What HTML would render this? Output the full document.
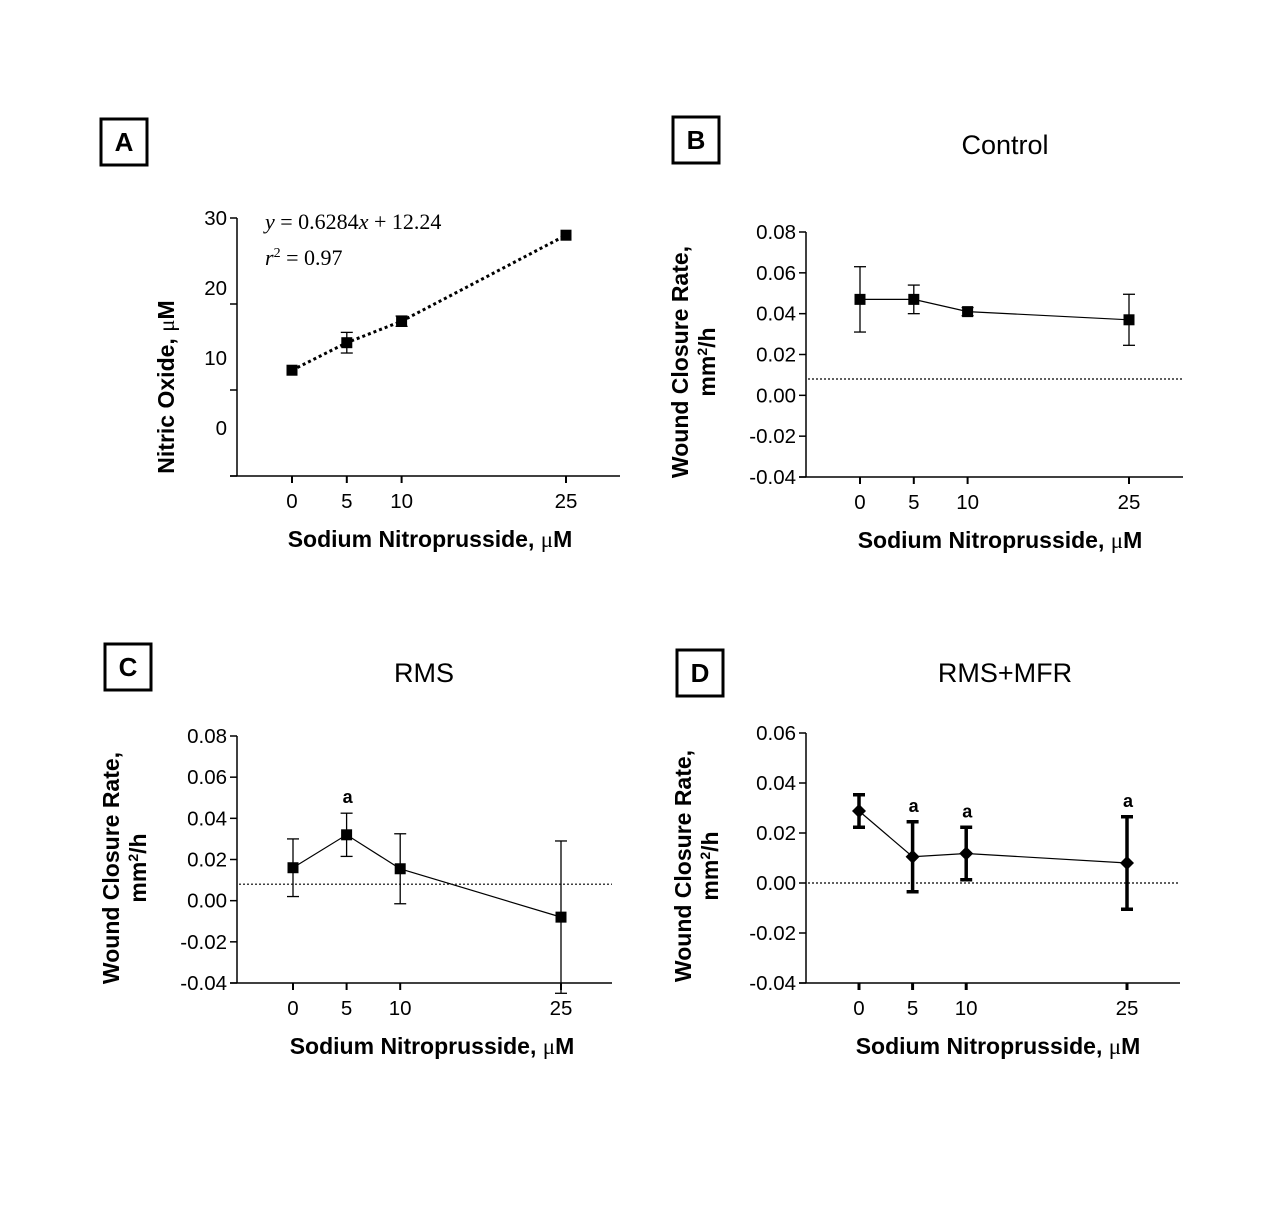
<!DOCTYPE html>
<html><head><meta charset="utf-8"><style>
body{margin:0;background:#fff}
svg{display:block;font-family:"Liberation Sans",Arial,sans-serif}
</style></head><body>
<svg id="fig" width="1280" height="1213" viewBox="0 0 1280 1213" xmlns="http://www.w3.org/2000/svg">
<rect width="1280" height="1213" fill="#fff"/>
</svg>
<script>
const xCats=[0,5,10,25];
const aVals=[12.3,15.5,18.0,28.0];
const aErr=[0,1.2,0.6,0];
const bVals=[0.047,0.047,0.041,0.037];
const bErr=[0.016,0.007,0.002,0.0125];
const cVals=[0.016,0.032,0.0155,-0.008];
const cErr=[0.014,0.0105,0.017,0.037];
const dVals=[0.0288,0.0105,0.0118,0.008];
const dErr=[0.0065,0.014,0.0105,0.0185];
const aTicks=[0,10,20,30];
const wTicksBC=[-0.04,-0.02,0.00,0.02,0.04,0.06,0.08];
const wTicksD=[-0.04,-0.02,0.00,0.02,0.04,0.06];
const NS='http://www.w3.org/2000/svg';
const svg=document.getElementById('fig');
function el(tag,attrs,parent,text){const e=document.createElementNS(NS,tag);for(const k in attrs)e.setAttribute(k,attrs[k]);if(text!==undefined)e.textContent=text;(parent||svg).appendChild(e);return e;}

function panel(o){
  const g=el('g',{});
  
  
  const ys=v=>o.y0+(v-o.ymin)/(o.ymax-o.ymin)*(o.y1-o.y0);
  const xs=v=>o.xa+(v-0)*(o.xb-o.xa)/25;
  const lb=el('g',{},g);
  
  
  el('rect',{x:o.box[0],y:o.box[1],width:46,height:46,fill:'none',stroke:'#000','stroke-width':3},lb);
  el('text',{x:o.box[0]+23,y:o.box[1]+32,'text-anchor':'middle','font-size':26,'font-weight':'bold'},lb,o.id);
  if(o.title){const t=el('text',{x:o.titleX,y:o.titleY,'text-anchor':'middle','font-size':27},g,o.title);
    }
  const ax=el('line',{x1:o.axX,y1:ys(o.ymax),x2:o.axX,y2:o.y0,stroke:'#000','stroke-width':1.5},g);
  
  const bx=el('line',{x1:o.axX-7,y1:o.y0,x2:o.xEnd,y2:o.y0,stroke:'#000','stroke-width':1.5},g);
  
  o.ticks.forEach((t,i)=>{
    const y=ys(t);
    el('line',{x1:o.axX-7,y1:y,x2:o.axX,y2:y,stroke:'#000','stroke-width':1.5},g);
    const ly=o.labelY?o.labelY(i):y;
    const tl=el('text',{x:o.axX-10,y:ly+7,'text-anchor':'end','font-size':20.5},g,o.fmt(t));
    
  });
  xCats.forEach(c=>{
    const x=xs(c);
    el('line',{x1:x,y1:o.y0,x2:x,y2:o.y0+7,stroke:'#000','stroke-width':o.thick?3:2},g);
    const tl=el('text',{x:x,y:o.y0+32,'text-anchor':'middle','font-size':20.5},g,String(c));
    
  });
  const xt=el('text',{x:o.xTitleX,y:o.y0+71,'text-anchor':'middle','font-size':23,'font-weight':'bold'},g);
  xt.innerHTML='Sodium Nitroprusside, <tspan font-weight="normal" font-family="Liberation Serif,serif">μ</tspan>M';
  
  const yt=el('text',{transform:`translate(${o.yTitleX},${o.yTitleY}) rotate(-90)`,'text-anchor':'middle','font-size':23,'font-weight':'bold'},g);
  if(o.id==='A'){yt.innerHTML='Nitric Oxide, <tspan font-weight="normal" font-family="Liberation Serif,serif">μ</tspan>M';}
  else{
    el('tspan',{x:0,dy:0},yt,'Wound Closure Rate,');
    const t2=el('tspan',{x:0,dy:27},yt);t2.innerHTML='mm<tspan font-size="14" dy="-8">2</tspan><tspan dy="8">/h</tspan>';
  }
  
  if(o.ref!==undefined){
    const r=el('line',{x1:o.axX+2,y1:ys(o.ref),x2:o.xEnd,y2:ys(o.ref),stroke:'#000','stroke-width':1.2,'stroke-dasharray':'2 2'},g);
    
  }
  const pts=o.vals.map((v,i)=>xs(xCats[i])+','+ys(v)).join(' ');
  const pl=el('polyline',{points:pts,fill:'none',stroke:'#000','stroke-width':o.dashed?3:1.2,'stroke-dasharray':o.dashed?'3 3':'none'},g);
  
  o.vals.forEach((v,i)=>{
    const x=xs(xCats[i]),y=ys(v),e=o.err[i];
    const sw=o.thick?3.5:1.3;
    if(e>0){
      const eb=el('g',{},g);
      
      el('line',{x1:x,y1:ys(v+e),x2:x,y2:ys(v-e),stroke:'#000','stroke-width':sw},eb);
      el('line',{x1:x-6,y1:ys(v+e),x2:x+6,y2:ys(v+e),stroke:'#000','stroke-width':sw},eb);
      el('line',{x1:x-6,y1:ys(v-e),x2:x+6,y2:ys(v-e),stroke:'#000','stroke-width':sw},eb);
    }
    let m;
    if(o.diamond) m=el('polygon',{points:`${x},${y-7} ${x+7},${y} ${x},${y+7} ${x-7},${y}`,fill:'#000'},g);
    else m=el('rect',{x:x-5.5,y:y-5.5,width:11,height:11,fill:'#000'},g);
    
    if(o.sig&&o.sig[i]){
      const a=el('text',{x:x+1,y:ys(v+e)-10,'text-anchor':'middle','font-size':18,'font-weight':'bold'},g,'a');
      
    }
  });
  if(o.id==='A'){
    const eq=el('g',{},g);
    
    const t1=el('text',{x:265,y:229,'font-size':22,'font-family':'Liberation Serif,serif'},eq);
    t1.innerHTML='<tspan font-style="italic">y</tspan> = 0.6284<tspan font-style="italic">x</tspan> + 12.24';
    const t2=el('text',{x:265,y:265,'font-size':22,'font-family':'Liberation Serif,serif'},eq);
    t2.innerHTML='<tspan font-style="italic">r</tspan><tspan font-size="14" dy="-8">2</tspan><tspan dy="8"> = 0.97</tspan>';
  }
}
const f2=v=>v.toFixed(2);
panel({id:'A',box:[101,119],axX:237,y0:476,y1:218,ymin:0,ymax:30,ticks:aTicks,fmt:v=>String(v),
  labelY:i=>428-i*70,xa:292,xb:566,xEnd:620,vals:aVals,err:aErr,dashed:true,xTitleX:430,yTitleX:174,yTitleY:387});
panel({id:'B',box:[673,117],title:'Control',titleX:1005,titleY:154,axX:806,y0:477,y1:232,ymin:-0.04,ymax:0.08,ticks:wTicksBC,fmt:f2,
  xa:860,xb:1129,xEnd:1183,vals:bVals,err:bErr,ref:0.008,xTitleX:1000,yTitleX:688,yTitleY:362});
panel({id:'C',box:[105,644],title:'RMS',titleX:424,titleY:682,axX:237,y0:983,y1:736,ymin:-0.04,ymax:0.08,ticks:wTicksBC,fmt:f2,
  xa:293,xb:561,xEnd:612,vals:cVals,err:cErr,ref:0.008,sig:[0,1,0,0],xTitleX:432,yTitleX:119,yTitleY:868});
panel({id:'D',box:[677,650],title:'RMS+MFR',titleX:1005,titleY:682,axX:806,y0:983,y1:733,ymin:-0.04,ymax:0.06,ticks:wTicksD,fmt:f2,
  xa:859,xb:1127,xEnd:1180,vals:dVals,err:dErr,ref:0,thick:true,diamond:true,sig:[0,1,1,1],xTitleX:998,yTitleX:691,yTitleY:866});
</script>
</body></html>
